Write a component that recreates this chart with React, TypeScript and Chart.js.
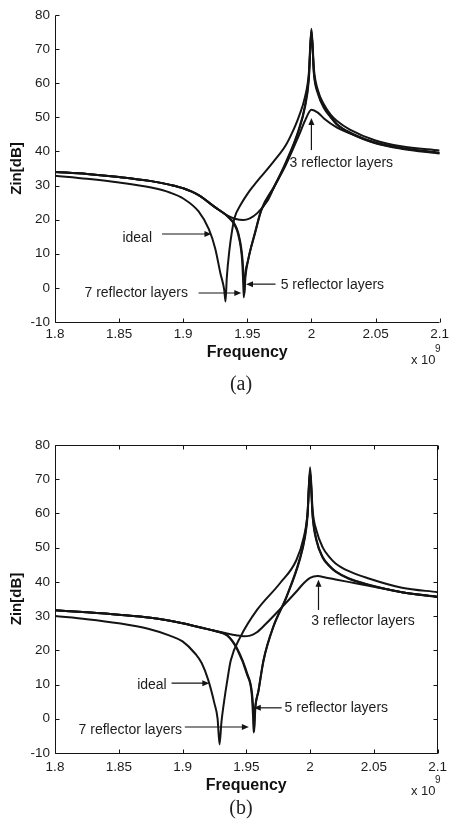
import { useEffect, useRef } from "react";
import { Chart, registerables } from "chart.js";

Chart.register(...registerables);

// ---------- axes ----------
const X_TICKS = [1.8, 1.85, 1.9, 1.95, 2.0, 2.05, 2.1];
const X_TICK_LABELS = ["1.8", "1.85", "1.9", "1.95", "2", "2.05", "2.1"];
const Y_TICKS = [-10, 0, 10, 20, 30, 40, 50, 60, 70, 80];
const Y_TICK_LABELS = ["-10", "0", "10", "20", "30", "40", "50", "60", "70", "80"];

// ---------- chart (a) ----------
const A_IDEAL_F = [1.80, 1.825, 1.85, 1.875, 1.89, 1.90, 1.912, 1.92, 1.925, 1.929, 1.932, 1.933, 1.934, 1.936, 1.938, 1.940, 1.945, 1.950, 1.955, 1.960, 1.970, 1.980, 1.985, 1.990, 1.995, 1.998, 2.000, 2.002, 2.005, 2.010, 2.015, 2.020, 2.030, 2.050, 2.070, 2.100];
const A_IDEAL_Z = [32.9, 32.0, 30.9, 29.4, 27.9, 26.2, 22.4, 17.2, 11.5, 4.3, -0.6, -4.0, 3.0, 11.0, 16.5, 20.5, 24.5, 27.5, 30.0, 32.3, 36.8, 41.8, 45.5, 50.0, 56.0, 63.0, 76.0, 64.0, 58.0, 53.6, 50.8, 48.9, 46.4, 43.2, 41.5, 40.3];

const A_SEVEN_F = [1.80, 1.825, 1.85, 1.875, 1.89, 1.90, 1.912, 1.925, 1.935, 1.940, 1.943, 1.946, 1.9468, 1.9473, 1.948, 1.9505, 1.956, 1.961, 1.971, 1.980, 1.990, 1.995, 1.998, 2.000, 2.002, 2.005, 2.010, 2.015, 2.020, 2.030, 2.050, 2.070, 2.100];
const A_SEVEN_Z = [34.0, 33.4, 32.5, 31.3, 30.2, 29.2, 27.2, 23.6, 20.8, 18.5, 15.5, 7.8, 1.5, -2.8, 2.5, 8.0, 16.2, 23.0, 29.8, 36.8, 46.3, 53.5, 62.0, 75.5, 62.5, 57.0, 52.6, 50.0, 47.8, 45.4, 42.4, 40.8, 39.4];

const A_FIVE_F = [1.80, 1.825, 1.85, 1.875, 1.89, 1.90, 1.912, 1.925, 1.935, 1.940, 1.943, 1.9463, 1.9472, 1.9477, 1.9485, 1.9507, 1.956, 1.961, 1.971, 1.980, 1.990, 1.995, 1.998, 2.000, 2.002, 2.005, 2.010, 2.015, 2.020, 2.030, 2.050, 2.070, 2.100];
const A_FIVE_Z = [34.0, 33.4, 32.5, 31.3, 30.2, 29.2, 27.2, 23.6, 20.9, 18.8, 16.0, 8.2, 2.0, -2.0, 3.0, 8.2, 16.0, 22.8, 29.6, 36.5, 46.0, 53.0, 61.0, 75.0, 63.0, 57.5, 53.0, 50.2, 48.0, 45.6, 42.6, 41.0, 39.6];

const A_THREE_F = [1.80, 1.825, 1.85, 1.875, 1.89, 1.90, 1.912, 1.925, 1.935, 1.941, 1.9468, 1.952, 1.958, 1.966, 1.971, 1.980, 1.990, 1.995, 2.000, 2.005, 2.010, 2.020, 2.030, 2.050, 2.070, 2.100];
const A_THREE_Z = [34.0, 33.4, 32.5, 31.3, 30.2, 29.2, 27.2, 23.6, 21.1, 20.2, 19.9, 20.4, 22.0, 25.7, 29.6, 36.0, 44.5, 49.0, 52.2, 51.4, 49.6, 47.0, 45.3, 42.5, 41.0, 39.5];

const A_NOTES = [
  { text: "3 reflector layers", tx: 1.983, ty: 36.6, x1: 2.0, y1: 40.4, x2: 2.0, y2: 49.8 },
  { text: "ideal", tx: 1.8526, ty: 14.6, x1: 1.8835, y1: 15.8, x2: 1.922, y2: 15.8 },
  { text: "7 reflector layers", tx: 1.823, ty: -1.4, x1: 1.912, y1: -1.5, x2: 1.9453, y2: -1.5 },
  { text: "5 reflector layers", tx: 1.976, ty: 0.8, x1: 1.972, y1: 1.1, x2: 1.949, y2: 1.1 },
];

// ---------- chart (b) ----------
const B_IDEAL_F = [1.80, 1.825, 1.85, 1.873, 1.89, 1.90, 1.91, 1.915, 1.920, 1.925, 1.9275, 1.929, 1.9305, 1.9327, 1.935, 1.9378, 1.9455, 1.9584, 1.9764, 1.9893, 1.995, 1.998, 2.000, 2.002, 2.005, 2.010, 2.015, 2.020, 2.030, 2.046, 2.072, 2.100];
const B_IDEAL_Z = [30.0, 29.1, 27.9, 26.3, 24.3, 22.6, 19.0, 16.3, 11.5, 4.5, 0.0, -7.5, -1.0, 5.4, 11.0, 17.0, 24.0, 31.8, 39.6, 46.4, 53.0, 60.0, 73.5, 61.0, 55.0, 50.0, 47.3, 45.4, 43.2, 41.0, 38.3, 37.0];

const B_SEVEN_F = [1.80, 1.825, 1.85, 1.875, 1.90, 1.915, 1.925, 1.935, 1.9429, 1.9505, 1.9543, 1.9553, 1.9558, 1.9566, 1.9595, 1.9636, 1.9713, 1.9816, 1.9919, 1.996, 1.998, 2.000, 2.002, 2.005, 2.010, 2.015, 2.020, 2.030, 2.046, 2.072, 2.100];
const B_SEVEN_Z = [31.7, 31.1, 30.4, 29.5, 27.9, 26.6, 25.7, 24.3, 20.2, 13.0, 7.0, 0.5, -4.0, 2.0, 8.2, 17.4, 27.1, 35.8, 46.8, 53.5, 60.0, 72.5, 59.5, 52.3, 47.2, 44.8, 43.1, 41.1, 39.2, 37.0, 35.7];

const B_FIVE_F = [1.80, 1.825, 1.85, 1.875, 1.90, 1.915, 1.925, 1.935, 1.9429, 1.9507, 1.9545, 1.9557, 1.9562, 1.957, 1.9597, 1.9636, 1.9713, 1.9816, 1.9919, 1.996, 1.998, 2.000, 2.002, 2.005, 2.010, 2.015, 2.020, 2.030, 2.046, 2.072, 2.100];
const B_FIVE_Z = [31.7, 31.1, 30.4, 29.5, 27.9, 26.6, 25.7, 24.4, 20.5, 13.2, 7.4, 1.0, -3.7, 2.5, 8.4, 17.1, 26.9, 35.6, 46.4, 53.0, 59.0, 72.0, 59.0, 52.0, 47.0, 44.6, 43.0, 41.0, 39.1, 37.0, 35.6];

const B_THREE_F = [1.80, 1.825, 1.85, 1.875, 1.90, 1.915, 1.925, 1.935, 1.942, 1.948, 1.953, 1.958, 1.965, 1.9764, 1.9893, 1.995, 2.000, 2.006, 2.012, 2.020, 2.030, 2.046, 2.072, 2.100];
const B_THREE_Z = [31.7, 31.1, 30.4, 29.5, 27.9, 26.6, 25.7, 24.9, 24.4, 24.1, 24.3, 25.2, 27.6, 32.0, 37.2, 39.6, 41.2, 41.7, 41.3, 40.7, 40.0, 38.9, 37.0, 35.6];

const B_NOTES = [
  { text: "3 reflector layers", tx: 2.0009, ty: 28.4, x1: 2.0066, y1: 31.8, x2: 2.0066, y2: 40.6 },
  { text: "ideal", tx: 1.8644, ty: 9.8, x1: 1.8914, y1: 10.4, x2: 1.921, y2: 10.4 },
  { text: "7 reflector layers", tx: 1.8185, ty: -3.4, x1: 1.9018, y1: -2.4, x2: 1.952, y2: -2.4 },
  { text: "5 reflector layers", tx: 1.980, ty: 3.2, x1: 1.9777, y1: 3.2, x2: 1.9559, y2: 3.2 },
];

const SANS = '"Liberation Sans", Arial, Helvetica, sans-serif';
const INK = "#141414";

function toPoints(f: number[], z: number[]) {
  return f.map((v, i) => ({ x: v, y: z[i] }));
}

const framePlugin = {
  id: "frame",
  beforeDatasetsDraw(chart: any, _args: any, opts: any) {
    const { ctx, chartArea, scales } = chart;
    const { left, right, top, bottom } = chartArea;
    const L = Math.round(left) + 0.5;
    const R = Math.round(right) - 0.5;
    const T = Math.round(top) + 0.5;
    const B = Math.round(bottom) + 0.5;
    ctx.save();
    ctx.strokeStyle = INK;
    ctx.lineWidth = 1;
    ctx.beginPath();
    ctx.moveTo(L, T);
    ctx.lineTo(L, B);
    ctx.lineTo(R, B);
    if (opts.box) {
      ctx.lineTo(R, T);
      ctx.lineTo(L, T);
    }
    const tl = 4;
    for (const t of scales.x.ticks) {
      const px = Math.round(scales.x.getPixelForValue(t.value)) + 0.5;
      ctx.moveTo(px, B);
      ctx.lineTo(px, B - tl);
      if (opts.box) {
        ctx.moveTo(px, T);
        ctx.lineTo(px, T + tl);
      }
    }
    for (const t of scales.y.ticks) {
      const py = Math.round(scales.y.getPixelForValue(t.value)) + 0.5;
      ctx.moveTo(L, py);
      ctx.lineTo(L + tl, py);
      if (opts.box) {
        ctx.moveTo(R, py);
        ctx.lineTo(R - tl, py);
      }
    }
    ctx.stroke();
    ctx.restore();
  },
};

const notesPlugin = {
  id: "notes",
  afterDatasetsDraw(chart: any, _args: any, opts: any) {
    const { ctx, scales } = chart;
    const xs = scales.x;
    const ys = scales.y;
    ctx.save();
    ctx.font = `14px ${SANS}`;
    ctx.textAlign = "left";
    ctx.textBaseline = "middle";
    ctx.strokeStyle = INK;
    ctx.lineWidth = 1.2;
    for (const n of opts.items) {
      ctx.fillStyle = "#1c1c1c";
      ctx.fillText(n.text, xs.getPixelForValue(n.tx), ys.getPixelForValue(n.ty));
      const x1 = xs.getPixelForValue(n.x1);
      const y1 = ys.getPixelForValue(n.y1);
      const x2 = xs.getPixelForValue(n.x2);
      const y2 = ys.getPixelForValue(n.y2);
      const ang = Math.atan2(y2 - y1, x2 - x1);
      const hl = 7;
      const hw = 3;
      ctx.beginPath();
      ctx.moveTo(x1, y1);
      ctx.lineTo(x2 - Math.cos(ang) * hl * 0.8, y2 - Math.sin(ang) * hl * 0.8);
      ctx.stroke();
      ctx.beginPath();
      ctx.moveTo(x2, y2);
      ctx.lineTo(x2 - Math.cos(ang) * hl - Math.sin(ang) * hw, y2 - Math.sin(ang) * hl + Math.cos(ang) * hw);
      ctx.lineTo(x2 - Math.cos(ang) * hl + Math.sin(ang) * hw, y2 - Math.sin(ang) * hl - Math.cos(ang) * hw);
      ctx.closePath();
      ctx.fillStyle = INK;
      ctx.fill();
    }
    ctx.restore();
  },
};

function makeConfig(
  series: { f: number[]; z: number[]; label: string }[],
  notes: any[],
  box: boolean,
  padTop: number,
  xAxisH: number,
  tickPad: number,
  titlePadBottom: number
): any {
  return {
    type: "line",
    data: {
      datasets: series.map((s) => ({
        label: s.label,
        data: toPoints(s.f, s.z),
        borderColor: INK,
        borderWidth: 2,
        pointRadius: 0,
        fill: false,
        cubicInterpolationMode: "monotone",
      })),
    },
    options: {
      responsive: false,
      animation: false,
      devicePixelRatio: 1,
      layout: { padding: { top: padTop, right: 10, left: 0, bottom: 0 } },
      plugins: {
        legend: { display: false },
        tooltip: { enabled: false },
        frame: { box },
        notes: { items: notes },
      },
      scales: {
        x: {
          type: "linear",
          min: 1.8,
          max: 2.1,
          afterBuildTicks: (s: any) => {
            s.ticks = X_TICKS.map((v) => ({ value: v }));
          },
          afterFit: (s: any) => {
            s.height = xAxisH;
          },
          grid: { display: false, drawTicks: false },
          border: { display: false },
          ticks: {
            autoSkip: false,
            maxRotation: 0,
            padding: tickPad,
            color: "#1c1c1c",
            font: { family: SANS, size: 13.5 },
            callback: (v: number) => X_TICK_LABELS[X_TICKS.findIndex((t) => Math.abs(t - v) < 1e-6)],
          },
          title: {
            display: true,
            text: "Frequency",
            color: "#111",
            font: { family: SANS, size: 16, weight: "bold" },
            padding: { top: 0, bottom: titlePadBottom },
          },
        },
        y: {
          type: "linear",
          min: -10,
          max: 80,
          afterBuildTicks: (s: any) => {
            s.ticks = Y_TICKS.map((v) => ({ value: v }));
          },
          afterFit: (s: any) => {
            s.width = 55;
          },
          grid: { display: false, drawTicks: false },
          border: { display: false },
          ticks: {
            padding: 5,
            color: "#1c1c1c",
            font: { family: SANS, size: 13.5 },
            callback: (v: number) => Y_TICK_LABELS[Y_TICKS.findIndex((t) => Math.abs(t - v) < 1e-6)],
          },
          title: {
            display: true,
            text: "Zin[dB]",
            color: "#111",
            font: { family: SANS, size: 15, weight: "bold" },
            padding: { top: 8, bottom: 0 },
          },
        },
      },
    },
    plugins: [framePlugin, notesPlugin],
  };
}

const txt = (extra: any) => ({
  position: "absolute" as const,
  fontFamily: SANS,
  color: "#222",
  whiteSpace: "nowrap" as const,
  ...extra,
});

const capStyle = (top: number) => ({
  position: "absolute" as const,
  left: 241,
  top,
  transform: "translate(-50%, -50%)",
  fontFamily: '"Liberation Serif", "DejaVu Serif", serif',
  fontSize: 20,
  lineHeight: 1,
  color: "#222",
});

export default function App() {
  const refA = useRef<HTMLCanvasElement>(null);
  const refB = useRef<HTMLCanvasElement>(null);

  useEffect(() => {
    document.body.style.margin = "0";
    const a = new Chart(
      refA.current as HTMLCanvasElement,
      makeConfig(
        [
          { label: "ideal", f: A_IDEAL_F, z: A_IDEAL_Z },
          { label: "7 reflector layers", f: A_SEVEN_F, z: A_SEVEN_Z },
          { label: "5 reflector layers", f: A_FIVE_F, z: A_FIVE_Z },
          { label: "3 reflector layers", f: A_THREE_F, z: A_THREE_Z },
        ],
        A_NOTES,
        false,
        15,
        50,
        4,
        10
      )
    );
    const b = new Chart(
      refB.current as HTMLCanvasElement,
      makeConfig(
        [
          { label: "ideal", f: B_IDEAL_F, z: B_IDEAL_Z },
          { label: "7 reflector layers", f: B_SEVEN_F, z: B_SEVEN_Z },
          { label: "5 reflector layers", f: B_FIVE_F, z: B_FIVE_Z },
          { label: "3 reflector layers", f: B_THREE_F, z: B_THREE_Z },
        ],
        B_NOTES,
        true,
        20,
        47,
        6,
        5
      )
    );
    return () => {
      a.destroy();
      b.destroy();
    };
  }, []);

  return (
    <div style={{ position: "relative", width: 453, height: 827, background: "#fff", overflow: "hidden" }}>
      <canvas ref={refA} width={453} height={372} style={{ position: "absolute", left: 0, top: 0, display: "block" }} />
      <canvas ref={refB} width={453} height={375} style={{ position: "absolute", left: 0, top: 425, display: "block" }} />

      <div style={txt({ left: 411, top: 352, fontSize: 13, lineHeight: "15px" })}>x 10</div>
      <div style={txt({ left: 435, top: 343, fontSize: 10, lineHeight: "12px" })}>9</div>
      <div style={capStyle(383)}>(a)</div>

      <div style={txt({ left: 411, top: 783, fontSize: 13, lineHeight: "15px" })}>x 10</div>
      <div style={txt({ left: 435, top: 774, fontSize: 10, lineHeight: "12px" })}>9</div>
      <div style={capStyle(807)}>(b)</div>
    </div>
  );
}
